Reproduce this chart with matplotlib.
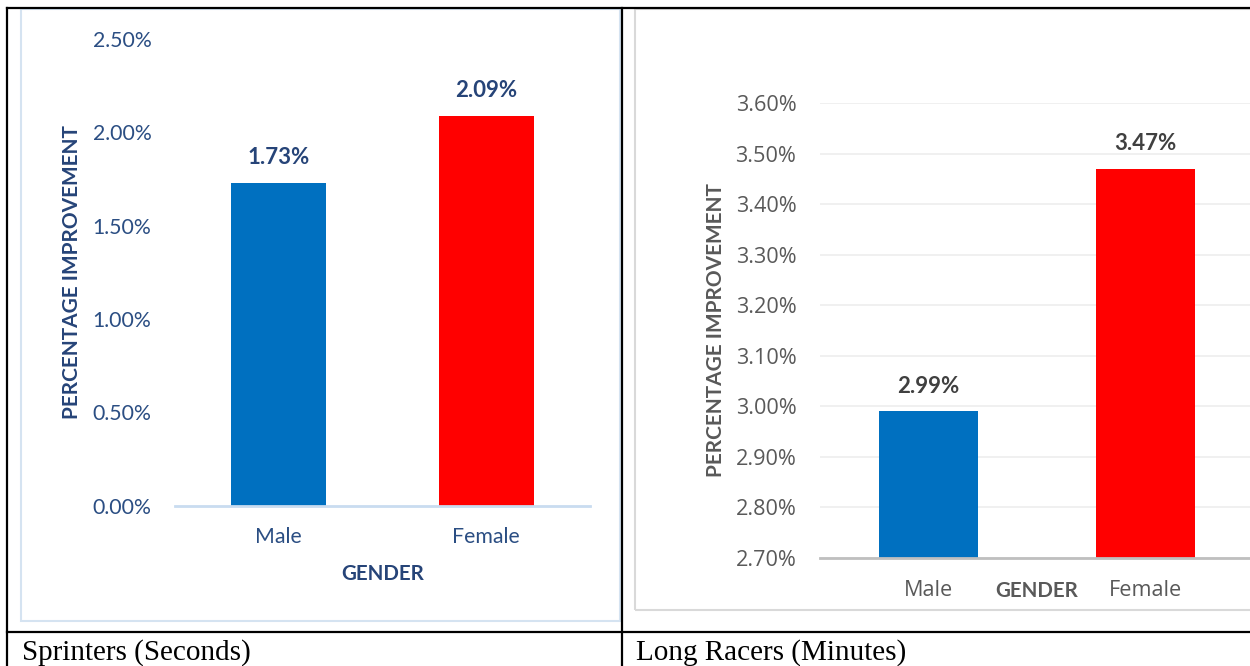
import matplotlib
matplotlib.use("Agg")
import matplotlib.pyplot as plt
from matplotlib.patches import Rectangle
from matplotlib.lines import Line2D
from matplotlib.ticker import FuncFormatter

# ---- data ----
genders = ["Male", "Female"]
sprint_vals = [1.73, 2.09]        # % improvement, sprinters (seconds)
long_vals = [2.99, 3.47]          # % improvement, long racers (minutes)
sprint_ticks = [0.0, 0.5, 1.0, 1.5, 2.0, 2.5]
long_ticks = [2.7, 2.8, 2.9, 3.0, 3.1, 3.2, 3.3, 3.4, 3.5, 3.6]
captions = ["Sprinters (Seconds)", "Long Racers (Minutes)"]

BAR_COLORS = ["#0070C0", "#FF0000"]
W, H = 1250, 666

fig = plt.figure(figsize=(W / 100, H / 100), dpi=100)

def fx(px): return px / W
def fy(py): return 1 - py / H

pct = FuncFormatter(lambda v, _: f"{v:.2f}%")

# ---- chart-area frames (Excel chart objects) ----
fig.patches.append(Rectangle((fx(21), fy(621)), fx(599), (621 - 9) / H, transform=fig.transFigure,
                             fill=False, ec="#D5E3F1", lw=1.5))
fig.patches.append(Rectangle((fx(635), fy(610)), fx(700), (610 - 9) / H, transform=fig.transFigure,
                             fill=False, ec="#D9D9D9", lw=1.5))

# ---- left chart: sprinters ----
axL = fig.add_axes([fx(175), fy(505.5), fx(415), 466.5 / H])
x = range(len(genders))
axL.bar(x, sprint_vals, width=0.46, color=BAR_COLORS, zorder=2)
axL.set_xlim(-0.5, 1.5); axL.set_ylim(0, 2.5)
axL.set_yticks(sprint_ticks); axL.yaxis.set_major_formatter(pct)
axL.set_xticks(list(x)); axL.set_xticklabels(genders)
for s in ("top", "right", "left"): axL.spines[s].set_visible(False)
axL.spines["bottom"].set_color("#C9DCF0"); axL.spines["bottom"].set_linewidth(2)
axL.tick_params(axis="y", length=0, pad=17, labelsize=15.3, labelcolor="#2B4E83")
axL.tick_params(axis="x", length=0, pad=15.5, labelsize=15.3, labelcolor="#2B4E83")
for lab in axL.get_xticklabels() + axL.get_yticklabels(): lab.set_family("Lato")
for i, v in enumerate(sprint_vals):
    axL.annotate(f"{v:.2f}%", (i, v), xytext=(0, 18), textcoords="offset points",
                 ha="center", va="center", fontsize=16, fontweight="bold",
                 color="#264478", family="Lato")
axL.set_ylabel("PERCENTAGE IMPROVEMENT", fontsize=15, fontweight="bold",
               color="#264478", family="Lato")
axL.yaxis.set_label_coords(-0.225, 0.5)
axL.set_xlabel("GENDER", fontsize=14.8, fontweight="bold", color="#264478", family="Lato")
axL.xaxis.set_label_coords(0.5, -0.147)
axL.xaxis.label.set_va("center")

# ---- right chart: long racers ----
axR = fig.add_axes([fx(820), fy(558), fx(434), 455 / H])
axR.bar(x, long_vals, width=0.456, color=BAR_COLORS, zorder=2)
axR.set_xlim(-0.5, 1.5); axR.set_ylim(2.7, 3.6)
axR.set_yticks(long_ticks); axR.yaxis.set_major_formatter(pct)
axR.set_xticks(list(x)); axR.set_xticklabels(genders)
axR.grid(axis="y", color="#EDEDED", lw=1.2, zorder=0)
for s in ("top", "right", "left"): axR.spines[s].set_visible(False)
axR.spines["bottom"].set_color("#BFBFBF"); axR.spines["bottom"].set_linewidth(2)
axR.tick_params(axis="y", length=0, pad=17, labelsize=15.6, labelcolor="#595959")
axR.tick_params(axis="x", length=0, pad=15.5, labelsize=15.6, labelcolor="#595959")
for lab in axR.get_xticklabels() + axR.get_yticklabels(): lab.set_family("Open Sans")
for i, v in enumerate(long_vals):
    axR.annotate(f"{v:.2f}%", (i, v), xytext=(0, 18), textcoords="offset points",
                 ha="center", va="center", fontsize=16, fontweight="bold",
                 color="#404040", family="Lato")
axR.set_ylabel("PERCENTAGE IMPROVEMENT", fontsize=15, fontweight="bold",
               color="#595959", family="Lato")
axR.yaxis.set_label_coords(-0.217, 0.5)
axR.set_xlabel("GENDER", fontsize=14.8, fontweight="bold", color="#595959", family="Lato")
axR.xaxis.set_label_coords(0.5, -0.0725)
axR.xaxis.label.set_va("center")

# ---- word table lines + captions ----
tl = dict(transform=fig.transFigure, color="black", lw=1.6)
fig.lines += [Line2D([fx(7), 1], [fy(8), fy(8)], **tl),
              Line2D([fx(7), fx(7)], [fy(8), 0], **tl),
              Line2D([fx(622), fx(622)], [fy(8), 0], **tl),
              Line2D([fx(7), 1], [fy(632), fy(632)], **tl)]
fig.text(fx(22), fy(660), captions[0], family="Liberation Serif", fontsize=21, va="baseline")
fig.text(fx(636), fy(660), captions[1], family="Liberation Serif", fontsize=21, va="baseline")

fig.savefig("out.png", dpi=100)
